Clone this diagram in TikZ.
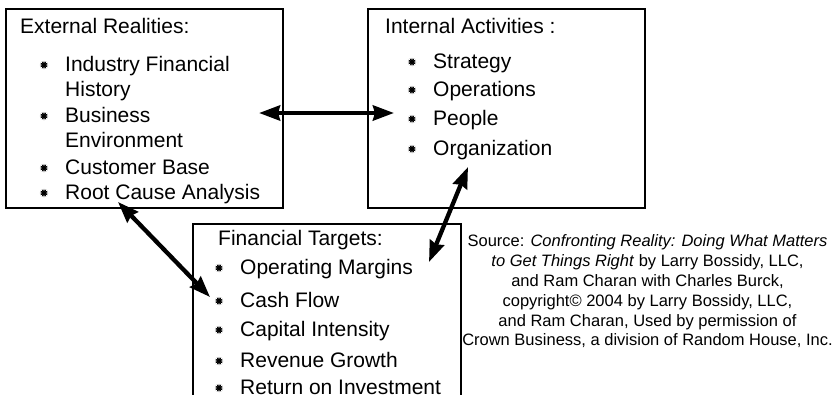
\documentclass[tikz,border=0pt]{standalone}
\usepackage{fontspec}
\setmainfont{Liberation Sans}
\usetikzlibrary{arrows.meta,shapes.geometric}

\tikzset{
  panel/.style={draw=black, line width=1.2pt, rectangle, inner sep=0pt},
  head/.style={anchor=base west, inner sep=0pt, font=\fontsize{21}{25}\selectfont},
  item/.style={anchor=base west, inner sep=0pt, font=\fontsize{21}{25}\selectfont},
  bul/.style={star, star points=12, star point ratio=1.9, minimum size=8.5pt,
              inner sep=0pt, fill=black, draw=none},
  src/.style={anchor=base, inner sep=0pt, font=\fontsize{16.5}{19.8}\selectfont},
  link/.style={line width=4.3pt, {Stealth[length=21pt,width=15pt,inset=2pt]}-{Stealth[length=21pt,width=15pt,inset=2pt]}}
}

% bulleted line: name, x, baseline y, text
\newcommand{\bitem}[4]{%
  \node[item] (#1) at (#2,#3) {#4};
  \node[bul] (#1-b) at ([xshift=-21pt,yshift=6pt]#1.base west) {};
}

\begin{document}
\begin{tikzpicture}[x=1pt,y=-1pt]
  \useasboundingbox (0,0) rectangle (835,394);

  % the three panels
  \node[panel, minimum width=277pt, minimum height=199pt] (ext) at (144.5,108.5) {};
  \node[panel, minimum width=277pt, minimum height=199pt] (int) at (506.5,108.5) {};
  \node[panel, minimum width=268pt, minimum height=200pt] (fin) at (327,324) {};

  % External Realities
  \node[head] (extT) at (20,33) {External Realities:};
  \bitem{e1}{65}{71}{Industry Financial}
  \node[item] (e1b) at (65,96) {History};
  \bitem{e2}{65}{122}{Business}
  \node[item] (e2b) at (65,147) {Environment};
  \bitem{e3}{65}{174}{Customer Base}
  \bitem{e4}{65}{199}{Root Cause Analysis}

  % Internal Activities
  \node[head] (intT) at (385,33) {Internal Activities :};
  \bitem{i1}{433}{68}{Strategy}
  \bitem{i2}{433}{96}{Operations}
  \bitem{i3}{433}{125}{People}
  \bitem{i4}{433}{155}{Organization}

  % Financial Targets
  \node[head] (finT) at (218,245) {Financial Targets:};
  \bitem{f1}{240}{274}{Operating Margins}
  \bitem{f2}{240}{307}{Cash Flow}
  \bitem{f3}{240}{336}{Capital Intensity}
  \bitem{f4}{240}{367}{Revenue Growth}
  \bitem{f5}{240}{394}{Return on Investment}

  % source note
  \node[src] (s1) at (647.5,246) {Source: \textit{Confronting Reality: Doing What Matters}};
  \node[src] (s2) at (647.5,266) {\textit{to Get Things Right} by Larry Bossidy, LLC,};
  \node[src] (s3) at (647.5,286) {and Ram Charan with Charles Burck,};
  \node[src] (s4) at (647.5,306) {copyright© 2004 by Larry Bossidy, LLC,};
  \node[src] (s5) at (647.5,326) {and Ram Charan, Used by permission of};
  \node[src] (s6) at (647.5,345) {Crown Business, a division of Random House, Inc.};

  % arrow end points
  \coordinate (pExt) at (259,113);
  \coordinate (pInt) at (394,113);
  \coordinate (pOrg) at (468,167);
  \coordinate (pOpm) at (429,262);
  \coordinate (pRoot) at (118,202);
  \coordinate (pCash) at (210,297);

  % connectors
  \draw[link] (pExt) -- (pInt);
  \draw[link] (pOrg) -- (pOpm);
  \draw[link] (pRoot) -- (pCash);
\end{tikzpicture}
\end{document}
